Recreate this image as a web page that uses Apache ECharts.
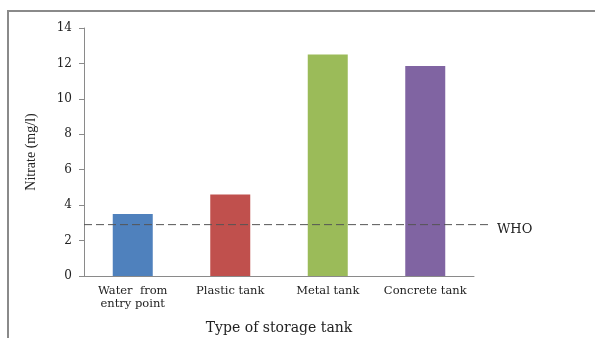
<!DOCTYPE html>
<html lang="en">
<head>
  <meta charset="UTF-8">
  <title>Nitrate by storage tank</title>
  <style>
    html, body, #chart {
      margin: 0;
      padding: 0;
      width: 595px;
      height: 338px;
      background: #fff;
      overflow: hidden;
    }
  </style>
</head>
<body>
<div id="chart"></div>

<script src="https://cdn.jsdelivr.net/npm/echarts@6/dist/echarts.min.js"></script>
<script>
  var categories = ['Water  from\nentry point', 'Plastic tank', 'Metal tank', 'Concrete tank'];
  var nitrate = [3.5, 4.6, 12.5, 11.85];
  var barColors = ['#4F81BD', '#C0504D', '#9BBB59', '#8064A2'];
  var whoLimit = 2.9;
  var yTicks = [0, 14, 2]; // min, max, step

  var chart = echarts.init(document.getElementById('chart'));

  var serif = 'DejaVu Serif';
  var textColor = '#222';
  var axisGray = '#8a8a8a';

  chart.setOption({
    animation: false,
    backgroundColor: '#fff',
    grid: [
      { left: 84, right: 121, top: 28, bottom: 62, outerBoundsMode: 'none' },
      // second grid only carries the WHO line, a bit wider than the plot
      { left: 84, right: 105, top: 28, bottom: 62, outerBoundsMode: 'none' }
    ],
    graphic: [{
      type: 'rect',
      shape: { x: 8, y: 11, width: 620, height: 360 },
      style: { fill: 'none', stroke: axisGray, lineWidth: 2 },
      silent: true
    }],
    xAxis: [{
      type: 'category',
      gridIndex: 0,
      data: categories,
      axisLine: { lineStyle: { color: axisGray, width: 1 } },
      axisTick: { length: 4, lineStyle: { color: axisGray } },
      axisLabel: {
        interval: 0,
        hideOverlap: false,
        margin: 9,
        fontFamily: serif,
        fontSize: 11.5,
        color: textColor,
        lineHeight: 13
      },
      name: 'Type of storage tank',
      nameLocation: 'middle',
      nameGap: 45,
      nameTextStyle: { fontFamily: serif, fontSize: 14, color: textColor }
    }, {
      type: 'value',
      gridIndex: 1,
      min: 0,
      max: 1,
      show: false
    }],
    yAxis: [{
      type: 'value',
      gridIndex: 0,
      min: yTicks[0],
      max: yTicks[1],
      interval: yTicks[2],
      splitLine: { show: false },
      axisLine: { show: true, lineStyle: { color: axisGray, width: 1 } },
      axisTick: { show: true, length: 5, lineStyle: { color: axisGray } },
      axisLabel: { margin: 12, fontFamily: serif, fontSize: 12, color: textColor },
      name: 'Nitrate (mg/l)',
      nameLocation: 'middle',
      nameGap: 46,
      nameTextStyle: { fontFamily: 'Liberation Serif', fontSize: 14, color: textColor }
    }, {
      type: 'value',
      gridIndex: 1,
      min: yTicks[0],
      max: yTicks[1],
      show: false
    }],
    series: [{
      type: 'bar',
      barWidth: 40,
      data: nitrate.map(function (v, i) {
        return { value: v, itemStyle: { color: barColors[i] } };
      })
    }, {
      type: 'line',
      xAxisIndex: 1,
      yAxisIndex: 1,
      symbol: 'none',
      silent: true,
      data: [[0, whoLimit], [1, whoLimit]],
      lineStyle: { color: '#555', width: 1, type: [8, 4] },
      endLabel: {
        show: true,
        formatter: 'WHO',
        distance: 7,
        offset: [0, 5],
        fontFamily: serif,
        fontSize: 13,
        color: textColor
      }
    }]
  });
</script>
</body>
</html>
